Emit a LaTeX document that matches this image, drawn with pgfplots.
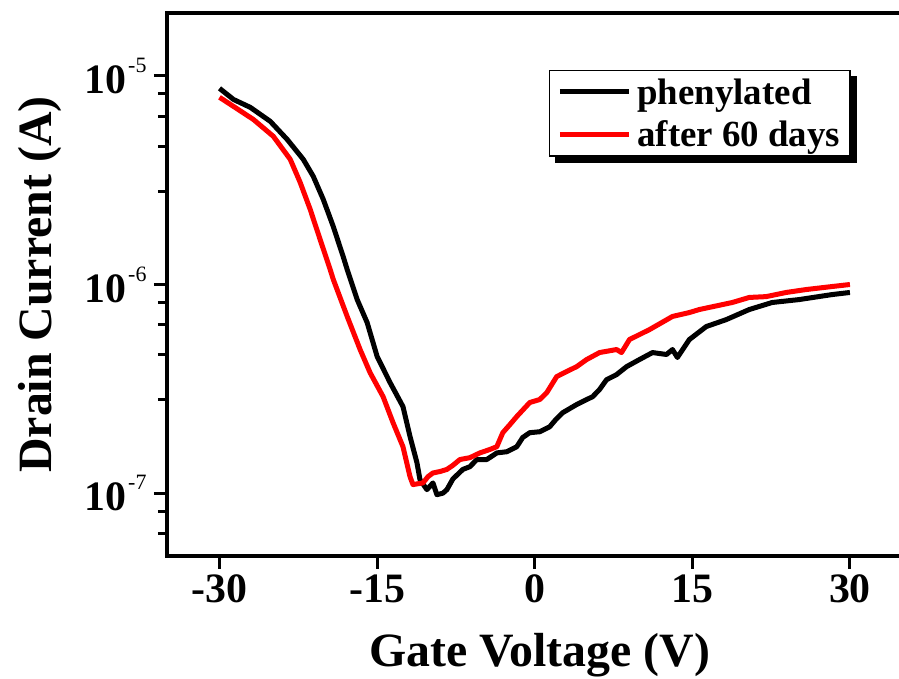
\documentclass[border=0pt]{standalone}
\usepackage{fontspec}
\setmainfont{Liberation Serif}
\usepackage{pgfplots}
\pgfplotsset{compat=1.18}
\newcommand\tickfont{\fontsize{42}{46}\selectfont\bfseries}
\newcommand\labfont{\fontsize{48}{54}\selectfont\bfseries}
\newcommand\legfont{\fontsize{37}{41}\selectfont\bfseries}
\newcommand\ex[1]{\hspace{2bp}\raisebox{21bp}{\fontsize{22}{22}\selectfont\mdseries #1}}
\begin{document}
\begin{tikzpicture}
\useasboundingbox (-167bp,-123bp) rectangle (732bp,556bp);
\clip (-167bp,-123bp) rectangle (732bp,556bp);
\begin{axis}[
  name=ax,
  at={(0bp,0bp)}, anchor=south west,
  scale only axis,
  width=788bp, height=543bp,
  ymode=log,
  xmin=-35, xmax=40,
  ymin=5e-8, ymax=2e-5,
  axis line style={draw=none},
  every tick/.style={line width=3bp, black},
  tick align=outside,
  xtick pos=left, ytick pos=left,
  major tick length=13bp, minor tick length=9bp,
  xtick={-30,-15,0,15,30},
  xticklabels={-30,-15,0,15,30},
  ytick={1e-7,1e-6,1e-5},
  yticklabels={10\ex{-7},10\ex{-6},10\ex{-5}},
  minor ytick={6.4e-8,8.2e-8,2.8e-7,4.6e-7,6.4e-7,8.2e-7,2.8e-6,4.6e-6,6.4e-6,8.2e-6},
  ticklabel style={font=\tickfont},
  xticklabel style={yshift=-2bp},
  yticklabel style={xshift=-4bp},
  xlabel={Gate Voltage (V)},
  ylabel={Drain Current (A)},
  xlabel style={font=\labfont, at={(axis cs:0,5e-8)}, anchor=center, yshift=-99bp, xshift=5bp},
  ylabel style={font=\labfont, at={(axis description cs:-0.161,0.5)}, anchor=center},
  legend style={name=leg, at={(axis cs:1.33,1.07e-5)}, anchor=north west, draw=black, line width=1.5bp,
    fill=white, font=\legfont, inner xsep=8bp, inner ysep=6bp, row sep=11bp,
    nodes={inner sep=2bp},
    /tikz/every odd column/.append style={column sep=4bp}},
  legend cell align=left,
  legend image code/.code={\draw[#1] (0bp,0bp) -- (69bp,0bp);},
]
\addplot[black, line width=5bp, line join=round] coordinates {
(-30.0,8.71e-6) (-28.68,7.71e-6) (-27.07,7.06e-6) (-25.17,6.05e-6) (-23.55,4.95e-6)
(-22.03,3.98e-6) (-21.08,3.30e-6) (-20.13,2.56e-6) (-19.18,1.90e-6) (-18.23,1.36e-6)
(-17.85,1.18e-6) (-16.90,8.47e-7) (-15.95,6.57e-7) (-15.00,4.52e-7) (-13.77,3.39e-7)
(-12.54,2.60e-7) (-11.87,1.87e-7) (-11.21,1.40e-7) (-10.92,1.16e-7) (-10.26,1.04e-7)
(-9.69,1.12e-7) (-9.31,9.84e-8) (-8.74,1.00e-7) (-8.36,1.04e-7) (-7.79,1.17e-7)
(-6.84,1.30e-7) (-6.17,1.34e-7) (-5.51,1.45e-7) (-4.56,1.45e-7) (-3.61,1.56e-7)
(-2.66,1.58e-7) (-1.71,1.67e-7) (-1.14,1.85e-7) (-0.47,1.95e-7) (0.47,1.97e-7)
(1.42,2.08e-7) (1.99,2.25e-7) (2.66,2.43e-7) (3.99,2.66e-7) (4.94,2.81e-7)
(5.51,2.90e-7) (6.17,3.14e-7) (6.84,3.50e-7) (7.79,3.70e-7) (8.74,4.04e-7)
(9.97,4.37e-7) (11.21,4.72e-7) (11.87,4.67e-7) (12.54,4.62e-7) (13.11,4.88e-7)
(13.58,4.47e-7) (14.72,5.45e-7) (16.33,6.29e-7) (18.23,6.79e-7) (20.42,7.59e-7)
(22.60,8.20e-7) (25.17,8.47e-7) (28.30,8.95e-7) (30.0,9.16e-7)
};
\addlegendentry{phenylated}
\addplot[red, line width=5bp, line join=round] coordinates {
(-30.0,7.89e-6) (-28.68,7.14e-6) (-26.78,6.18e-6) (-24.88,5.13e-6) (-23.27,3.98e-6)
(-22.32,3.08e-6) (-21.37,2.29e-6) (-20.42,1.64e-6) (-19.47,1.18e-6) (-19.18,1.06e-6)
(-17.85,7.03e-7) (-16.62,4.88e-7) (-15.67,3.78e-7) (-14.43,2.90e-7) (-13.49,2.18e-7)
(-12.54,1.67e-7) (-11.87,1.20e-7) (-11.59,1.10e-7) (-10.64,1.12e-7) (-10.16,1.20e-7)
(-9.69,1.25e-7) (-9.02,1.27e-7) (-8.36,1.30e-7) (-7.79,1.36e-7) (-7.12,1.45e-7)
(-6.17,1.48e-7) (-5.22,1.56e-7) (-4.27,1.62e-7) (-3.61,1.67e-7) (-3.04,1.95e-7)
(-2.37,2.13e-7) (-1.71,2.33e-7) (-0.47,2.72e-7) (0.47,2.81e-7) (1.14,3.03e-7)
(2.09,3.62e-7) (3.04,3.83e-7) (3.99,4.04e-7) (4.94,4.37e-7) (6.17,4.72e-7)
(7.79,4.88e-7) (8.26,4.72e-7) (9.02,5.45e-7) (10.92,6.08e-7) (13.11,7.03e-7)
(14.72,7.34e-7) (15.67,7.59e-7) (18.80,8.20e-7) (20.42,8.67e-7) (22.03,8.75e-7)
(23.93,9.16e-7) (25.83,9.46e-7) (28.30,9.78e-7) (30.0,1.00e-6)
};
\addlegendentry{after 60 days}
\end{axis}
\draw[line width=4bp, line join=miter] (732bp,543bp) -- (0bp,543bp) -- (0bp,0bp) -- (732bp,0bp);
\fill[black] ([yshift=-6bp]leg.north east) rectangle ([xshift=6bp,yshift=-6bp]leg.south east);
\fill[black] ([xshift=6bp,yshift=-6bp]leg.south west) rectangle (leg.south east);
\end{tikzpicture}
\end{document}
